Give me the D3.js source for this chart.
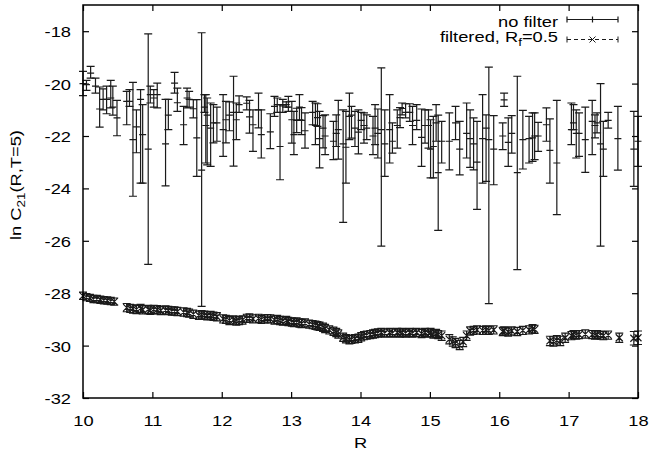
<!DOCTYPE html>
<html>
<head>
<meta charset="utf-8">
<script src="https://cdn.jsdelivr.net/npm/d3@7"></script>
<style>
    body { margin: 0; background: #fff; }
    svg text { font-family: "Liberation Sans", Arial, Helvetica, sans-serif; fill: #000; }
</style>
</head>
<body>
<div id="chart"></div>
<script>
// tick values
const xTicks = [10, 11, 12, 13, 14, 15, 16, 17, 18];
const yTicks = [-32, -30, -28, -26, -24, -22, -20, -18];
const seriesLabels = ['no filter', 'filtered'];

// no filter: [R, value, top of bar, bottom of bar]
const noFilter = [
    [10.00, -20.0, -19.53, -20.46], [10.05, -20.04, -19.88, -20.26], [10.11, -19.6, -19.34, -19.79],
    [10.18, -20.1, -19.79, -20.36], [10.24, -20.97, -20.13, -21.66], [10.29, -20.6, -20.2, -21.0],
    [10.34, -20.6, -20.1, -21.15], [10.40, -20.55, -19.88, -20.93], [10.43, -20.9, -20.1, -21.2],
    [10.49, -21.31, -20.64, -21.99], [10.63, -20.68, -20.3, -21.57], [10.67, -20.68, -20.23, -20.87],
    [10.72, -22.14, -19.95, -24.3], [10.77, -21.65, -21.0, -22.64], [10.83, -20.6, -20.23, -23.8],
    [10.86, -21.95, -20.8, -23.8], [10.94, -22.5, -18.1, -26.9], [10.97, -20.42, -20.1, -20.74],
    [11.02, -20.55, -20.23, -20.9], [11.07, -20.42, -19.98, -20.93], [11.19, -22.3, -20.6, -23.9],
    [11.23, -21.2, -20.6, -21.76], [11.32, -19.98, -19.57, -20.36], [11.36, -20.73, -20.17, -21.06],
    [11.45, -21.57, -20.87, -22.33], [11.50, -20.55, -20.17, -20.93], [11.53, -20.6, -20.3, -20.9],
    [11.59, -20.96, -20.61, -21.31], [11.64, -22.07, -20.61, -23.54], [11.71, -23.3, -18.06, -28.5],
    [11.75, -20.9, -20.42, -21.1], [11.77, -21.6, -20.42, -23.03], [11.79, -21.2, -20.55, -23.1],
    [11.84, -21.7, -20.74, -23.16], [11.88, -21.5, -20.8, -22.26], [11.93, -21.5, -20.9, -22.2],
    [12.02, -21.76, -20.42, -22.78], [12.06, -21.38, -20.68, -22.26], [12.11, -21.2, -20.7, -21.8],
    [12.17, -21.1, -19.72, -23.15], [12.21, -21.38, -20.74, -22.14], [12.25, -20.8, -20.47, -21.1],
    [12.36, -20.75, -20.51, -21.0], [12.40, -21.27, -20.64, -21.89], [12.45, -21.57, -21.0, -22.59],
    [12.53, -21.0, -20.36, -21.69], [12.57, -21.95, -21.0, -22.84], [12.70, -21.84, -21.15, -22.48],
    [12.76, -20.87, -20.49, -21.25], [12.80, -20.8, -20.55, -21.1], [12.84, -22.4, -20.8, -23.67],
    [12.88, -20.85, -20.6, -21.1], [12.93, -20.8, -20.7, -20.9], [12.96, -20.9, -20.49, -21.06],
    [13.01, -21.38, -20.68, -22.27], [13.04, -21.95, -21.06, -22.71], [13.08, -21.4, -20.94, -21.87],
    [13.12, -20.9, -20.42, -21.38], [13.15, -21.4, -20.92, -21.95], [13.20, -21.8, -21.12, -22.46],
    [13.31, -21.1, -20.68, -21.57], [13.35, -21.6, -20.74, -22.33], [13.38, -21.3, -20.77, -21.63],
    [13.41, -22.1, -21.06, -23.22], [13.46, -21.7, -21.22, -22.45], [13.49, -22.0, -21.19, -22.71],
    [13.61, -22.2, -21.44, -22.9], [13.65, -21.9, -21.19, -22.4], [13.68, -21.76, -20.64, -22.88],
    [13.75, -22.3, -21.0, -25.3], [13.79, -22.43, -21.06, -23.8], [13.84, -21.25, -20.36, -22.14],
    [13.87, -21.2, -20.87, -22.08], [13.92, -21.7, -21.06, -22.4], [13.97, -21.85, -21.0, -22.68],
    [14.01, -21.4, -21.1, -21.76], [14.05, -21.6, -21.12, -22.27], [14.09, -21.7, -21.19, -22.14],
    [14.18, -22.0, -21.25, -22.71], [14.21, -21.7, -20.8, -22.33], [14.25, -21.9, -20.97, -22.84],
    [14.30, -21.76, -19.4, -26.2], [14.35, -22.3, -21.0, -23.54], [14.42, -21.76, -20.42, -23.03],
    [14.46, -22.2, -21.5, -22.65], [14.53, -21.6, -21.0, -22.46], [14.57, -21.3, -20.92, -21.68],
    [14.60, -20.95, -20.74, -21.19], [14.65, -21.1, -20.77, -21.31], [14.71, -21.1, -20.77, -21.44],
    [14.75, -21.6, -20.87, -22.33], [14.81, -21.4, -20.8, -21.76], [14.88, -22.05, -20.97, -23.16],
    [14.93, -21.6, -21.0, -22.27], [14.98, -21.6, -21.0, -22.46], [15.01, -22.5, -21.38, -23.6],
    [15.05, -22.4, -21.25, -23.6], [15.09, -21.5, -20.8, -22.2], [15.12, -23.4, -21.2, -25.6],
    [15.17, -22.2, -21.44, -23.03], [15.28, -22.2, -21.12, -23.29], [15.37, -21.5, -20.87, -22.14],
    [15.43, -22.5, -21.44, -23.48], [15.53, -21.9, -20.74, -22.84], [15.58, -22.1, -21.0, -23.2],
    [15.63, -22.3, -21.31, -23.29], [15.68, -23.0, -21.44, -24.8], [15.76, -22.1, -20.42, -23.8],
    [15.81, -21.7, -21.19, -23.73], [15.85, -22.14, -19.37, -28.4], [15.92, -22.5, -21.22, -23.86],
    [16.05, -22.0, -21.5, -22.52], [16.07, -20.62, -20.36, -20.87], [16.13, -22.24, -21.31, -23.16],
    [16.18, -21.9, -21.22, -22.65], [16.26, -23.4, -19.72, -27.1], [16.34, -22.14, -21.02, -23.26],
    [16.43, -22.1, -21.25, -23.03], [16.48, -22.07, -21.12, -22.97], [16.51, -22.0, -21.12, -22.9],
    [16.56, -22.0, -21.48, -22.59], [16.68, -21.57, -20.93, -22.2], [16.73, -22.55, -21.35, -23.8],
    [16.83, -23.03, -20.64, -25.0], [17.04, -21.76, -20.74, -22.33], [17.07, -21.5, -20.8, -21.76],
    [17.11, -21.9, -21.0, -22.84], [17.15, -21.9, -21.12, -22.78], [17.24, -22.14, -20.9, -23.39],
    [17.34, -21.44, -20.64, -22.71], [17.38, -21.6, -21.19, -22.07], [17.41, -21.5, -21.12, -21.88],
    [17.46, -22.3, -20.0, -26.2], [17.50, -22.5, -21.44, -23.54], [17.57, -21.4, -21.1, -21.7],
    [17.71, -22.1, -20.87, -23.3], [17.94, -22.5, -21.06, -23.92], [18.00, -22.2, -21.25, -23.16]
];

// filtered, R_f = 0.5: [R, value, error]
const filtered = [
    [10.00, -28.10, 0.08], [10.05, -28.15, 0.08], [10.10, -28.18, 0.08], [10.15, -28.22, 0.08],
    [10.20, -28.22, 0.08], [10.25, -28.25, 0.08], [10.30, -28.27, 0.08], [10.35, -28.28, 0.08],
    [10.40, -28.30, 0.08], [10.45, -28.32, 0.08], [10.63, -28.55, 0.1], [10.68, -28.58, 0.1],
    [10.72, -28.60, 0.1], [10.77, -28.62, 0.1], [10.83, -28.58, 0.1], [10.86, -28.63, 0.1],
    [10.94, -28.62, 0.1], [10.97, -28.65, 0.1], [11.02, -28.62, 0.1], [11.07, -28.63, 0.1],
    [11.12, -28.66, 0.1], [11.19, -28.64, 0.1], [11.23, -28.66, 0.1], [11.28, -28.68, 0.1],
    [11.32, -28.68, 0.1], [11.36, -28.70, 0.1], [11.45, -28.72, 0.1], [11.50, -28.74, 0.1],
    [11.53, -28.76, 0.1], [11.59, -28.80, 0.1], [11.67, -28.84, 0.1], [11.71, -28.82, 0.1],
    [11.75, -28.84, 0.1], [11.79, -28.86, 0.1], [11.84, -28.85, 0.1], [11.88, -28.88, 0.1],
    [11.93, -28.90, 0.1], [12.02, -28.98, 0.1], [12.06, -29.00, 0.1], [12.11, -29.04, 0.1],
    [12.17, -29.02, 0.1], [12.21, -29.06, 0.1], [12.25, -29.04, 0.1], [12.30, -29.02, 0.1],
    [12.36, -28.96, 0.1], [12.40, -28.95, 0.1], [12.45, -28.98, 0.1], [12.53, -28.96, 0.1],
    [12.57, -29.00, 0.1], [12.62, -28.98, 0.1], [12.66, -28.97, 0.1], [12.70, -28.98, 0.1],
    [12.76, -29.02, 0.1], [12.80, -29.00, 0.1], [12.84, -29.04, 0.1], [12.88, -29.06, 0.1],
    [12.93, -29.04, 0.1], [12.96, -29.08, 0.1], [13.01, -29.10, 0.1], [13.04, -29.12, 0.1],
    [13.08, -29.10, 0.1], [13.12, -29.14, 0.1], [13.15, -29.16, 0.1], [13.20, -29.14, 0.1],
    [13.26, -29.18, 0.1], [13.31, -29.20, 0.1], [13.35, -29.22, 0.1], [13.38, -29.24, 0.1],
    [13.41, -29.26, 0.1], [13.46, -29.30, 0.1], [13.49, -29.35, 0.1], [13.55, -29.40, 0.1],
    [13.61, -29.45, 0.1], [13.65, -29.50, 0.1], [13.68, -29.56, 0.1], [13.75, -29.68, 0.1],
    [13.79, -29.74, 0.1], [13.84, -29.78, 0.1], [13.87, -29.76, 0.1], [13.92, -29.74, 0.1],
    [13.97, -29.72, 0.1], [14.01, -29.66, 0.1], [14.05, -29.62, 0.1], [14.09, -29.60, 0.1],
    [14.14, -29.58, 0.1], [14.18, -29.56, 0.1], [14.21, -29.54, 0.1], [14.25, -29.52, 0.1],
    [14.30, -29.50, 0.1], [14.35, -29.52, 0.1], [14.42, -29.50, 0.1], [14.46, -29.52, 0.1],
    [14.53, -29.50, 0.1], [14.57, -29.52, 0.1], [14.60, -29.50, 0.1], [14.65, -29.52, 0.1],
    [14.71, -29.50, 0.1], [14.75, -29.52, 0.1], [14.81, -29.50, 0.1], [14.88, -29.54, 0.1],
    [14.93, -29.50, 0.1], [14.98, -29.52, 0.1], [15.01, -29.50, 0.1], [15.05, -29.56, 0.1],
    [15.09, -29.54, 0.1], [15.12, -29.58, 0.1], [15.17, -29.62, 0.12], [15.28, -29.76, 0.12],
    [15.33, -29.84, 0.12], [15.37, -29.90, 0.12], [15.43, -29.98, 0.12], [15.48, -29.86, 0.12],
    [15.53, -29.62, 0.12], [15.58, -29.44, 0.1], [15.63, -29.42, 0.1], [15.68, -29.40, 0.1],
    [15.76, -29.42, 0.1], [15.81, -29.40, 0.1], [15.85, -29.42, 0.1], [15.92, -29.40, 0.1],
    [16.05, -29.46, 0.1], [16.07, -29.44, 0.1], [16.13, -29.48, 0.1], [16.18, -29.44, 0.1],
    [16.26, -29.46, 0.1], [16.34, -29.42, 0.1], [16.43, -29.40, 0.1], [16.48, -29.36, 0.1],
    [16.51, -29.38, 0.1], [16.73, -29.82, 0.12], [16.78, -29.84, 0.12], [16.83, -29.80, 0.12],
    [16.88, -29.82, 0.12], [16.95, -29.70, 0.12], [17.04, -29.62, 0.1], [17.07, -29.58, 0.1],
    [17.11, -29.60, 0.1], [17.15, -29.58, 0.1], [17.24, -29.56, 0.1], [17.34, -29.58, 0.1],
    [17.38, -29.60, 0.1], [17.41, -29.58, 0.1], [17.46, -29.60, 0.1], [17.50, -29.62, 0.1],
    [17.57, -29.60, 0.1], [17.73, -29.70, 0.12], [17.94, -29.72, 0.2], [18.00, -29.70, 0.2]
];

const STRETCH = 1.22; // glyphs in the original are wide

class ErrorBarChart {
    constructor(_config) {
        this.config = {
            parentElement: _config.parentElement,
            containerWidth: _config.containerWidth || 649,
            containerHeight: _config.containerHeight || 457,
            margin: _config.margin || { top: 5, right: 11, bottom: 59, left: 83 }
        };
        this.initVis();
    }

    initVis() {
        let vis = this;

        vis.width = vis.config.containerWidth - vis.config.margin.left - vis.config.margin.right;
        vis.height = vis.config.containerHeight - vis.config.margin.top - vis.config.margin.bottom;

        vis.svg = d3.select(vis.config.parentElement).append('svg')
            .attr('width', vis.config.containerWidth)
            .attr('height', vis.config.containerHeight)
            .style('font-size', '15px');

        vis.xScale = d3.scaleLinear().domain([10, 18]).range([0, vis.width]);
        vis.yScale = d3.scaleLinear().domain([-32, -17]).range([vis.height, 0]);

        vis.chart = vis.svg.append('g')
            .attr('transform', `translate(${vis.config.margin.left},${vis.config.margin.top})`);

        // axes, ticks point inward and are mirrored on top / right
        // plain hyphen for the minus sign, like the original
        const fmt = d => String(d);
        vis.xAxis = d3.axisBottom(vis.xScale).tickValues(xTicks).tickSize(-6).tickFormat(fmt);
        vis.yAxis = d3.axisLeft(vis.yScale).tickValues(yTicks).tickSize(-6).tickFormat(fmt);
        vis.xAxisTop = d3.axisTop(vis.xScale).tickValues(xTicks).tickSize(-6).tickFormat('');
        vis.yAxisRight = d3.axisRight(vis.yScale).tickValues(yTicks).tickSize(-6).tickFormat('');

        vis.xAxisG = vis.chart.append('g').attr('class', 'axis x-axis')
            .attr('transform', `translate(0,${vis.height})`);
        vis.yAxisG = vis.chart.append('g').attr('class', 'axis y-axis');
        vis.xAxisTopG = vis.chart.append('g').attr('class', 'axis x-axis-top');
        vis.yAxisRightG = vis.chart.append('g').attr('class', 'axis y-axis-right')
            .attr('transform', `translate(${vis.width},0)`);

        vis.markG = vis.chart.append('g');

        // axis titles
        const yTitle = vis.svg.append('text')
            .attr('text-anchor', 'middle')
            .attr('transform', `translate(21,185) rotate(-90) scale(${STRETCH},1)`);
        yTitle.append('tspan').text('ln C');
        yTitle.append('tspan').attr('dy', 4).style('font-size', '11px').text('21');
        yTitle.append('tspan').attr('dy', -4).text('(R,T=5)');

        vis.svg.append('text')
            .attr('text-anchor', 'middle')
            .attr('transform', `translate(${vis.config.margin.left + vis.width / 2},448) scale(${STRETCH},1)`)
            .text('R');
    }

    renderVis() {
        let vis = this;
        const x = vis.xScale, y = vis.yScale;

        vis.xAxisG.call(vis.xAxis).call(g => g.select('.domain').remove());
        vis.yAxisG.call(vis.yAxis).call(g => g.select('.domain').remove());
        vis.xAxisTopG.call(vis.xAxisTop).call(g => g.select('.domain').remove());
        vis.yAxisRightG.call(vis.yAxisRight).call(g => g.select('.domain').remove());

        vis.chart.selectAll('.axis text')
            .attr('fill', '#000')
            .style('font-size', '15px')
            .style('font-family', '"Liberation Sans", Arial, sans-serif');
        vis.xAxisG.selectAll('text')
            .attr('y', 0).attr('dy', null)
            .attr('transform', `translate(0,28) scale(${STRETCH},1)`);
        vis.yAxisG.selectAll('text')
            .attr('x', 0).attr('dy', null)
            .attr('transform', `translate(-12,5.5) scale(${STRETCH},1)`);
        vis.chart.selectAll('.axis line').attr('stroke', '#000').attr('stroke-width', 1.2);

        // frame
        vis.chart.append('rect')
            .attr('width', vis.width).attr('height', vis.height)
            .attr('fill', 'none').attr('stroke', '#000').attr('stroke-width', 1.5);

        // no filter: error bars with caps and a + at the value
        vis.markG.selectAll('.bar-nf')
            .data(noFilter)
            .join('path')
                .attr('class', 'bar-nf')
                .attr('fill', 'none')
                .attr('stroke', '#1a1a1a')
                .attr('stroke-width', 1.2)
                .attr('d', d => {
                    const cx = x(d[0]), cy = y(d[1]), t = y(d[2]), b = y(d[3]);
                    return `M${cx},${t}V${b}M${cx - 4},${t}h8M${cx - 4},${b}h8` +
                        `M${cx - 3.5},${cy}h7M${cx},${cy - 3.5}v7`;
                });

        // filtered: small error bars with an x at the value
        vis.markG.selectAll('.bar-f')
            .data(filtered)
            .join('path')
                .attr('class', 'bar-f')
                .attr('fill', 'none')
                .attr('stroke', '#1a1a1a')
                .attr('stroke-width', 1.2)
                .attr('d', d => {
                    const cx = x(d[0]), cy = y(d[1]), t = y(d[1] + d[2]) - 1.5, b = y(d[1] - d[2]) + 1.5;
                    return `M${cx},${t}V${b}M${cx - 4},${t}h8M${cx - 4},${b}h8` +
                        `M${cx - 3.5},${cy - 3.5}l7,7M${cx - 3.5},${cy + 3.5}l7,-7`;
                });

        vis.renderLegend();
    }

    renderLegend() {
        let vis = this;
        const legend = vis.svg.append('g');
        const x0 = 567, x1 = 618, xm = (x0 + x1) / 2;

        // no filter
        legend.append('text')
            .attr('text-anchor', 'end')
            .attr('transform', `translate(558,26.5) scale(${STRETCH},1)`)
            .text(seriesLabels[0]);
        legend.append('path')
            .attr('fill', 'none').attr('stroke', '#1a1a1a').attr('stroke-width', 1.2)
            .attr('d', `M${x0},19.5H${x1}M${x0},16.5v6M${x1},16.5v6M${xm},16.5v6`);

        // filtered
        const t2 = legend.append('text')
            .attr('text-anchor', 'end')
            .attr('transform', `translate(558,42) scale(${STRETCH},1)`);
        t2.append('tspan').text(seriesLabels[1] + ', R');
        t2.append('tspan').attr('dy', 4).style('font-size', '11px').text('f');
        t2.append('tspan').attr('dy', -4).text('=0.5');
        legend.append('path')
            .attr('fill', 'none').attr('stroke', '#1a1a1a').attr('stroke-width', 1)
            .attr('stroke-dasharray', '4,3')
            .attr('d', `M${x0},39.5H${x1}`);
        legend.append('path')
            .attr('fill', 'none').attr('stroke', '#1a1a1a').attr('stroke-width', 1)
            .attr('d', `M${x0},36.5v6M${x1},36.5v6M${xm - 3},36.5l6,6M${xm - 3},42.5l6,-6`);
    }
}

const chart = new ErrorBarChart({ parentElement: '#chart' });
chart.renderVis();
</script>
</body>
</html>
